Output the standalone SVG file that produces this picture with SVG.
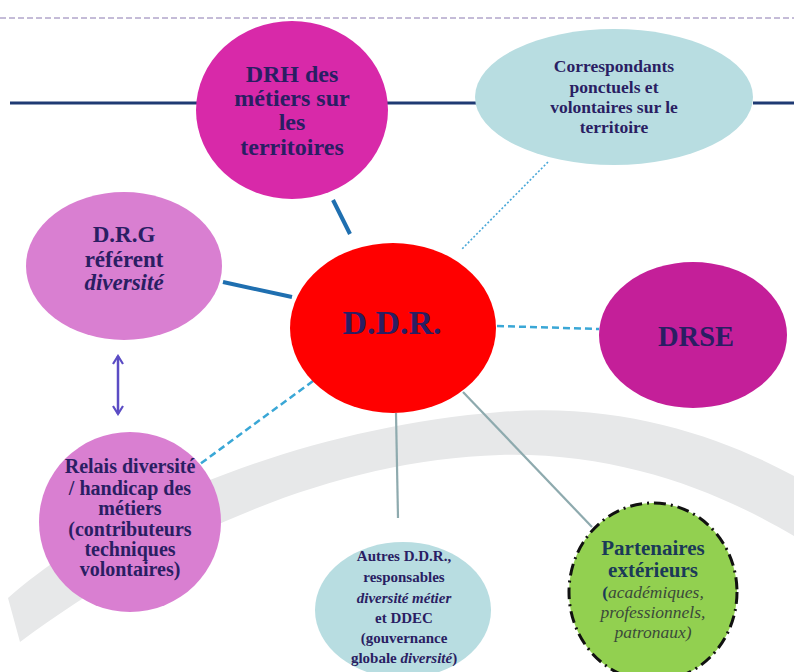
<svg xmlns="http://www.w3.org/2000/svg" width="794" height="672" viewBox="0 0 794 672">
<defs>
<style>
text{font-family:'Liberation Serif','DejaVu Serif',serif;font-weight:bold;fill:#2a1e63;text-anchor:middle}
.it{font-style:italic}
.conn-solid{stroke:#1f6fb0;stroke-width:4;fill:none}
.conn-gray{stroke:#8eaaae;stroke-width:2.2;fill:none}
.conn-dash{stroke:#3aa7d6;stroke-width:2.5;stroke-dasharray:7 4;fill:none}
.conn-dot{stroke:#4aa8d8;stroke-width:1.6;stroke-dasharray:2 2;fill:none}
.navy{stroke:#1f3a73;stroke-width:3}
.pt{fill:#1b3a58}
.pi{fill:#3b4a3a;font-weight:normal;font-style:italic}
</style>
<marker id="arr" viewBox="0 0 12 12" refX="10" refY="6" markerWidth="12" markerHeight="12" markerUnits="userSpaceOnUse" orient="auto-start-reverse">
<polyline points="2,1 10,6 2,11" fill="none" stroke="#5b4cc4" stroke-width="2.2"/>
</marker>
</defs>
<rect width="794" height="672" fill="#ffffff"/>
<line x1="0" y1="18" x2="794" y2="18" stroke="#8a78b0" stroke-width="1" stroke-dasharray="6 3"/>
<path d="M8,598 C110,508 300,428 500,412 C620,402 720,436 794,476 L794,536 C720,492 620,452 500,455 C330,460 160,538 20,642 Z" fill="#e7e8e9"/>
<g id="backbone">
<line class="navy" x1="10" y1="103" x2="197" y2="103"/>
<line class="navy" x1="387" y1="103" x2="477" y2="103"/>
<line class="navy" x1="753" y1="103" x2="794" y2="103"/>
</g>
<g id="connectors">
<line class="conn-solid" x1="333" y1="200" x2="350" y2="234"/>
<line class="conn-solid" x1="223" y1="282" x2="292" y2="297"/>
<line class="conn-dot" x1="548" y1="162" x2="462" y2="249"/>
<line class="conn-dash" x1="497" y1="326" x2="599" y2="329"/>
<line class="conn-dash" x1="313" y1="381" x2="200" y2="464"/>
<line class="conn-gray" x1="396" y1="413" x2="398" y2="518"/>
<line class="conn-gray" x1="463" y1="392" x2="592" y2="527"/>
<line x1="118" y1="356" x2="118" y2="414" stroke="#5b4cc4" stroke-width="2.5" marker-start="url(#arr)" marker-end="url(#arr)"/>
</g>
<g id="drh">
<ellipse cx="292" cy="110" rx="96" ry="89" fill="#d829a9"/>
<text font-size="24" x="292" y="82">DRH des</text>
<text font-size="24" x="292" y="106">métiers sur</text>
<text font-size="24" x="292" y="130">les</text>
<text font-size="24" x="292" y="155">territoires</text>
</g>
<g id="correspondants">
<ellipse cx="614" cy="97" rx="139" ry="68" fill="#b8dde1"/>
<text font-size="17.5" x="614" y="72">Correspondants</text>
<text font-size="17.5" x="614" y="93">ponctuels et</text>
<text font-size="17.5" x="614" y="113">volontaires sur le</text>
<text font-size="17.5" x="614" y="133">territoire</text>
</g>
<g id="drg">
<ellipse cx="124" cy="266" rx="98" ry="74" fill="#d97fd1"/>
<text font-size="23" x="124" y="242">D.R.G</text>
<text font-size="23" x="124" y="267">référent</text>
<text class="it" font-size="23" x="124" y="290">diversité</text>
</g>
<g id="ddr">
<ellipse cx="393" cy="328" rx="103" ry="85" fill="#ff0000"/>
<text font-size="34" x="392" y="334">D.D.R.</text>
</g>
<g id="drse">
<ellipse cx="693" cy="335" rx="94" ry="73" fill="#c41f99"/>
<text font-size="28.5" x="696" y="346">DRSE</text>
</g>
<g id="relais">
<ellipse cx="130" cy="522" rx="91" ry="90" fill="#d97fd1"/>
<text font-size="20" x="130" y="473">Relais diversité</text>
<text font-size="20" x="130" y="495">/ handicap des</text>
<text font-size="20" x="130" y="515">métiers</text>
<text font-size="20" x="130" y="536">(contributeurs</text>
<text font-size="20" x="130" y="556">techniques</text>
<text font-size="20" x="130" y="576">volontaires)</text>
</g>
<g id="autres">
<ellipse cx="403" cy="610" rx="88" ry="68" fill="#b8dde1"/>
<text font-size="15" x="404" y="561">Autres D.D.R.,</text>
<text font-size="15" x="404" y="582">responsables</text>
<text class="it" font-size="15" x="404" y="603">diversité métier</text>
<text font-size="15" x="404" y="623">et DDEC</text>
<text font-size="15" x="404" y="643">(gouvernance</text>
<text font-size="15" x="404" y="663">globale <tspan class="it">diversité</tspan>)</text>
</g>
<g id="partenaires">
<ellipse cx="653" cy="592" rx="84" ry="89" fill="#92d050" stroke="#111111" stroke-width="3" stroke-dasharray="12 5 2 5"/>
<text class="pt" font-size="21" x="653" y="555">Partenaires</text>
<text class="pt" font-size="21" x="653" y="577">extérieurs</text>
<text class="pt" font-size="17.5" x="653" y="598">(<tspan class="pi">académiques,</tspan></text>
<text class="pi" font-size="17.5" x="653" y="618">professionnels,</text>
<text class="pi" font-size="17.5" x="653" y="638">patronaux)</text>
</g>
</svg>
